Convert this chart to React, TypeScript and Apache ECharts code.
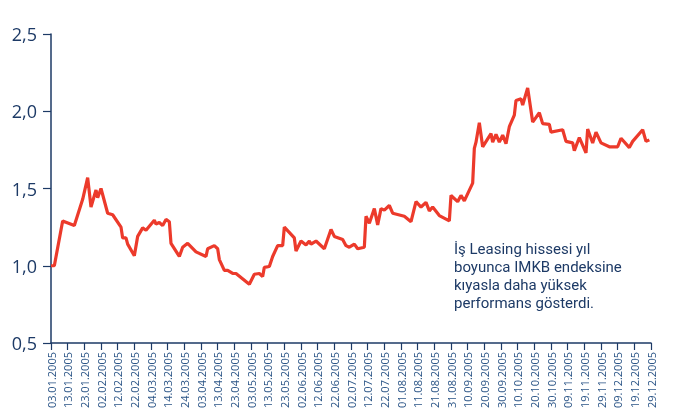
import React, { useEffect, useRef } from "react";
import * as echarts from "echarts";

const dates: string[] = [
  "03.01.2005", "05.01.2005", "10.01.2005", "17.01.2005", "22.01.2005", "25.01.2005", "27.01.2005", "30.01.2005", "31.01.2005", "02.02.2005",
  "06.02.2005", "09.02.2005", "14.02.2005", "15.02.2005", "17.02.2005", "18.02.2005", "22.02.2005", "24.02.2005", "27.02.2005", "01.03.2005",
  "06.03.2005", "07.03.2005", "09.03.2005", "11.03.2005", "13.03.2005", "15.03.2005", "16.03.2005", "21.03.2005", "23.03.2005", "26.03.2005",
  "31.03.2005", "06.04.2005", "07.04.2005", "11.04.2005", "13.04.2005", "14.04.2005", "17.04.2005", "19.04.2005", "22.04.2005", "24.04.2005",
  "02.05.2005", "05.05.2005", "08.05.2005", "10.05.2005", "11.05.2005", "14.05.2005", "16.05.2005", "19.05.2005", "22.05.2005", "23.05.2005",
  "29.05.2005", "30.05.2005", "02.06.2005", "05.06.2005", "07.06.2005", "08.06.2005", "11.06.2005", "16.06.2005", "20.06.2005", "22.06.2005",
  "27.06.2005", "29.06.2005", "01.07.2005", "04.07.2005", "06.07.2005", "10.07.2005", "11.07.2005", "13.07.2005", "16.07.2005", "18.07.2005",
  "20.07.2005", "22.07.2005", "25.07.2005", "27.07.2005", "03.08.2005", "07.08.2005", "10.08.2005", "13.08.2005", "16.08.2005", "18.08.2005",
  "20.08.2005", "24.08.2005", "30.08.2005", "31.08.2005", "04.09.2005", "06.09.2005", "08.09.2005", "13.09.2005", "14.09.2005", "15.09.2005",
  "17.09.2005", "19.09.2005", "24.09.2005", "25.09.2005", "27.09.2005", "29.09.2005", "01.10.2005", "03.10.2005", "05.10.2005", "08.10.2005",
  "09.10.2005", "12.10.2005", "13.10.2005", "16.10.2005", "19.10.2005", "23.10.2005", "25.10.2005", "29.10.2005", "30.10.2005", "06.11.2005",
  "08.11.2005", "12.11.2005", "13.11.2005", "16.11.2005", "20.11.2005", "21.11.2005", "24.11.2005", "26.11.2005", "29.11.2005", "04.12.2005",
  "09.12.2005", "11.12.2005", "16.12.2005", "18.12.2005", "24.12.2005", "26.12.2005", "28.12.2005",
];

const values: number[] = [
  1.0, 1.0, 1.29, 1.26, 1.43, 1.57, 1.38, 1.49, 1.44, 1.5,
  1.34, 1.33, 1.25, 1.18, 1.18, 1.14, 1.065, 1.19, 1.245, 1.23,
  1.295, 1.27, 1.28, 1.26, 1.3, 1.285, 1.145, 1.06, 1.12, 1.145,
  1.09, 1.06, 1.11, 1.13, 1.11, 1.04, 0.97, 0.97, 0.95, 0.95,
  0.88, 0.945, 0.95, 0.93, 0.99, 0.995, 1.06, 1.13, 1.13, 1.25,
  1.18, 1.095, 1.16, 1.135, 1.16, 1.14, 1.16, 1.11, 1.235, 1.19,
  1.17, 1.13, 1.12, 1.14, 1.11, 1.12, 1.32, 1.275, 1.37, 1.265,
  1.37, 1.36, 1.39, 1.34, 1.32, 1.285, 1.415, 1.38, 1.41, 1.355,
  1.38, 1.325, 1.29, 1.455, 1.415, 1.455, 1.42, 1.535, 1.76, 1.8,
  1.925, 1.77, 1.855, 1.8, 1.85, 1.8, 1.845, 1.79, 1.9, 1.975,
  2.07, 2.08, 2.04, 2.15, 1.93, 1.99, 1.92, 1.915, 1.865, 1.88,
  1.805, 1.795, 1.745, 1.83, 1.73, 1.885, 1.795, 1.865, 1.795, 1.77,
  1.77, 1.825, 1.765, 1.805, 1.88, 1.805, 1.815,
];

const startDate = "03.01.2005";
const endDate = "29.12.2005";
const tickDays = 10;
const yTicks = [0.5, 1.0, 1.5, 2.0, 2.5];
const noteLines = [
  "İş Leasing hissesi yıl",
  "boyunca IMKB endeksine",
  "kıyasla daha yüksek",
  "performans gösterdi.",
];

const DAY = 86400000;
const parse = (s: string) => {
  const [d, m, y] = s.split(".").map(Number);
  return Date.UTC(y, m - 1, d);
};
const t0 = parse(startDate);
const dayIndex = (s: string) => Math.round((parse(s) - t0) / DAY);
const fmtDay = (v: number) => {
  const dt = new Date(t0 + v * DAY);
  const dd = String(dt.getUTCDate()).padStart(2, "0");
  const mm = String(dt.getUTCMonth() + 1).padStart(2, "0");
  return `${dd}.${mm}.${dt.getUTCFullYear()}`;
};

const NAVY = "#1d3a66";
const FONT = "'Open Sans', 'Noto Sans', sans-serif";

export default function App() {
  const ref = useRef<HTMLDivElement>(null);
  useEffect(() => {
    if (!ref.current) return;
    const chart = echarts.init(ref.current, null, { renderer: "svg" });
    const seriesData = dates.map((d, i) => [dayIndex(d), values[i]]);
    chart.setOption({
      animation: false,
      grid: { left: 51, right: 23, top: 34, bottom: 74, containLabel: false },
      xAxis: {
        type: "value",
        min: 0,
        max: dayIndex(endDate),
        interval: tickDays,
        splitLine: { show: false },
        axisLine: { show: true, lineStyle: { color: NAVY, width: 1.5 } },
        axisTick: { show: true, length: 7, lineStyle: { color: NAVY, width: 1.2 } },
        axisLabel: {
          rotate: 90,
          margin: 9,
          fontSize: 11,
          fontFamily: FONT,
          color: "#2b5587",
          showMinLabel: true,
          showMaxLabel: true,
          formatter: (v: number) => fmtDay(v),
        },
      },
      yAxis: {
        type: "value",
        min: yTicks[0],
        max: yTicks[yTicks.length - 1],
        interval: 0.5,
        splitLine: { show: false },
        axisLine: { show: true, lineStyle: { color: NAVY, width: 1.5 } },
        axisTick: { show: true, length: 8, lineStyle: { color: NAVY, width: 1.2 } },
        axisLabel: {
          margin: 14,
          fontSize: 18,
          fontFamily: FONT,
          color: NAVY,
          formatter: (v: number) => v.toFixed(1).replace(".", ","),
        },
      },
      series: [
        {
          type: "line",
          data: seriesData,
          showSymbol: false,
          symbol: "none",
          lineStyle: { color: "#ec3a2b", width: 3.2 },
        },
      ],
      graphic: noteLines.map((line, i) => ({
        type: "text",
        left: 454,
        top: 241 + i * 18,
        style: {
          text: line,
          fontSize: 15,
          lineHeight: 15,
          fontFamily: "Roboto, sans-serif",
          fill: NAVY,
        },
      })),
    });
    return () => chart.dispose();
  }, []);
  return (
    <div
      ref={ref}
      style={{ position: "fixed", left: 0, top: 0, width: 674, height: 417 }}
    />
  );
}
